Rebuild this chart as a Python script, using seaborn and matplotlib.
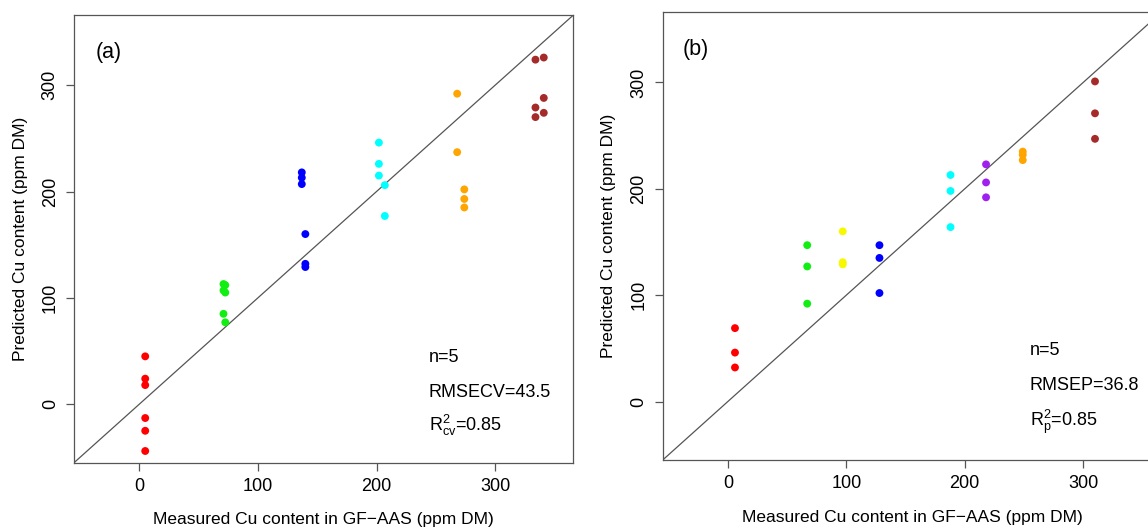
import matplotlib
matplotlib.use("Agg")
import matplotlib.pyplot as plt
import seaborn as sns
import pandas as pd

# ---------------- data: panel (a) cross-validation ----------------
a_group = (["red"] * 6 + ["green"] * 6 + ["blue"] * 6 + ["cyan"] * 5 +
           ["orange"] * 5 + ["brown"] * 6)
a_measured = [5, 5, 5, 5, 5, 5,
              71, 72.5, 71, 72.5, 71, 72.5,
              137, 137, 137, 140, 140, 140,
              202, 202, 202, 207, 207,
              268, 268, 274, 274, 274,
              334, 334, 334, 341, 341, 341]
a_predicted = [45, 24, 18, -13, -25, -44,
               113, 112, 107, 105, 85, 77,
               218, 213, 207, 160, 132, 129,
               246, 226, 215, 206, 177,
               292, 237, 202, 193, 185,
               324, 279, 270, 326, 288, 274]

# ---------------- data: panel (b) prediction ----------------
b_group = (["red"] * 3 + ["green"] * 3 + ["yellow"] * 3 + ["blue"] * 3 +
           ["cyan"] * 3 + ["purple"] * 3 + ["orange"] * 3 + ["brown"] * 3)
b_measured = [6, 6, 6,
              67, 67, 67,
              97, 97, 97,
              128, 128, 128,
              188, 188, 188,
              218, 218, 218,
              249, 249, 249,
              310, 310, 310]
b_predicted = [69, 46, 32,
               147, 127, 92,
               160, 131, 129,
               147, 135, 102,
               213, 198, 164,
               223, 206, 192,
               235, 232, 227,
               301, 271, 247]

palette = {"red": "#FF0000", "green": "#11EE11", "blue": "#0000FF",
           "cyan": "#00FFFF", "orange": "#FFA500", "brown": "#A52A2A",
           "purple": "#A020F0", "yellow": "#F8F800"}

ticks = [0, 100, 200, 300]
lims = (-55, 366)
xlabel = "Measured Cu content in GF\u2212AAS (ppm DM)"
ylabel = "Predicted Cu content (ppm DM)"

sns.set_theme(style="white")
plt.rcParams["font.family"] = ["Liberation Sans", "DejaVu Sans"]
plt.rcParams["mathtext.fontset"] = "custom"
plt.rcParams["mathtext.rm"] = "Liberation Sans"
plt.rcParams["mathtext.it"] = "Liberation Sans"
plt.rcParams["mathtext.default"] = "rm"
plt.rcParams["text.color"] = "black"
plt.rcParams["axes.labelcolor"] = "black"
plt.rcParams["xtick.labelcolor"] = "black"
plt.rcParams["ytick.labelcolor"] = "black"

fig = plt.figure(figsize=(11.48, 5.30), dpi=100)
ax_a = fig.add_axes([0.0645, 0.1270, 0.4350, 0.8447])
ax_b = fig.add_axes([0.5773, 0.1321, 0.4343, 0.8447])

df_a = pd.DataFrame({"x": a_measured, "y": a_predicted, "g": a_group})
df_b = pd.DataFrame({"x": b_measured, "y": b_predicted, "g": b_group})

panels = [
    (ax_a, df_a, "(a)", (-37, 331), (244, [43.5, 10.6, -20.3]),
     ["n=5", "RMSECV=43.5", r"R$^{2}_{\mathrm{cv}}$=0.85"]),
    (ax_b, df_b, "(b)", (-38, 331), (255, [48, 15, -19.5]),
     ["n=5", "RMSEP=36.8", r"R$^{2}_{\mathrm{p}}$=0.85"]),
]

for ax, df, tag, tagpos, (tx, tys), lines in panels:
    sns.scatterplot(data=df, x="x", y="y", hue="g", palette=palette,
                    s=32, linewidth=0, legend=False, ax=ax, zorder=3)
    ax.plot(lims, lims, color="#555555", lw=0.9, zorder=2)
    ax.set_xlim(lims)
    ax.set_ylim(lims)
    ax.set_xticks(ticks)
    ax.set_yticks(ticks)
    ax.tick_params(axis="both", direction="out", length=6, width=0.9,
                   color="#555555", labelsize=13, pad=5, labelcolor="black")
    ax.tick_params(axis="both", which="both", bottom=True, left=True)
    for lab in ax.get_yticklabels():
        lab.set_rotation(90)
        lab.set_va("center")
    for sp in ax.spines.values():
        sp.set_color("#555555")
        sp.set_linewidth(0.9)
    ax.set_xlabel(xlabel, fontsize=12.5, color="black")
    ax.set_ylabel(ylabel, fontsize=12.5, color="black")
    ax.xaxis.label.set_va("center")
    ax.yaxis.label.set_va("center")
    ax.xaxis.set_label_coords(0.5, -0.128)
    ax.yaxis.set_label_coords(-0.108, 0.5)
    ax.text(tagpos[0], tagpos[1], tag, fontsize=15.5, ha="left", va="center",
            color="black")
    for t, ty in zip(lines, tys):
        ax.text(tx, ty, t, fontsize=13, ha="left", va="center", color="black")

fig.savefig("out.png", dpi=100)
